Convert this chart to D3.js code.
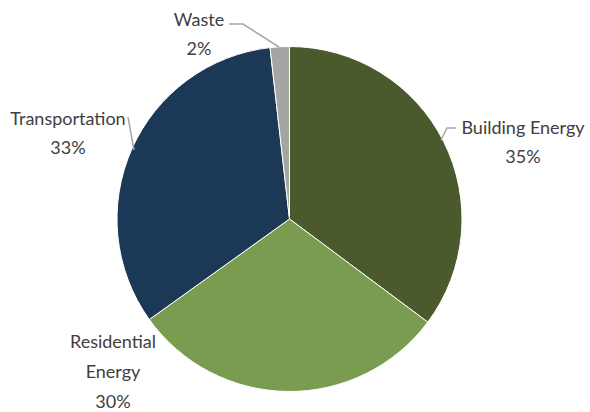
<!DOCTYPE html>
<html><head><meta charset="utf-8">
<script src="https://cdn.jsdelivr.net/npm/d3@7"></script>
<style>body{margin:0;background:#fff}text{font-family:Lato,"Open Sans",sans-serif;fill:#404040;font-size:18px}</style>
</head><body><svg id="c" width="590" height="412"></svg>
<script>
const categories = ["Building Energy","Residential Energy","Transportation","Waste"];
const values = [35.2, 29.9, 33.1, 1.8];
const pctLabels = ["35%","30%","33%","2%"];
const colors = ["#4b5a2c","#7a9c50","#1c3857","#a5a5a5"];

const svg = d3.select("#c");
const cx = 289.5, cy = 219, r = 172.5;
const g = svg.append("g").attr("transform",`translate(${cx},${cy})`);
const pie = d3.pie().sort(null).value(d=>d)(values);
const arc = d3.arc().innerRadius(0).outerRadius(r);
g.selectAll("path").data(pie).join("path").attr("d",arc)
 .attr("fill",(d,i)=>colors[i]).attr("stroke","#fff").attr("stroke-width",1);

const labelLines = [["Building Energy","35%"],["Residential","Energy","30%"],["Transportation","33%"],["Waste","2%"]];
const labelPos = [[523,134],[113,348],[68,125],[199,26]];
const lineH = [29,30,29,29];
const leaders = [
  [[456,128],[447,128],[441,140]],
  null,
  [[128,117],[134,150]],
  [[229,24],[243,24],[279,47]]
];
labelLines.forEach((lines,i)=>{
  const t = svg.append("text").attr("text-anchor","middle");
  lines.forEach((s,j)=>t.append("tspan").attr("x",labelPos[i][0]).attr("y",labelPos[i][1]+j*lineH[i]).text(s));
  if(leaders[i]) svg.append("polyline").attr("points",leaders[i].map(p=>p.join(",")).join(" "))
    .attr("fill","none").attr("stroke","#a6a6a6").attr("stroke-width",1.5);
});
</script></body></html>
